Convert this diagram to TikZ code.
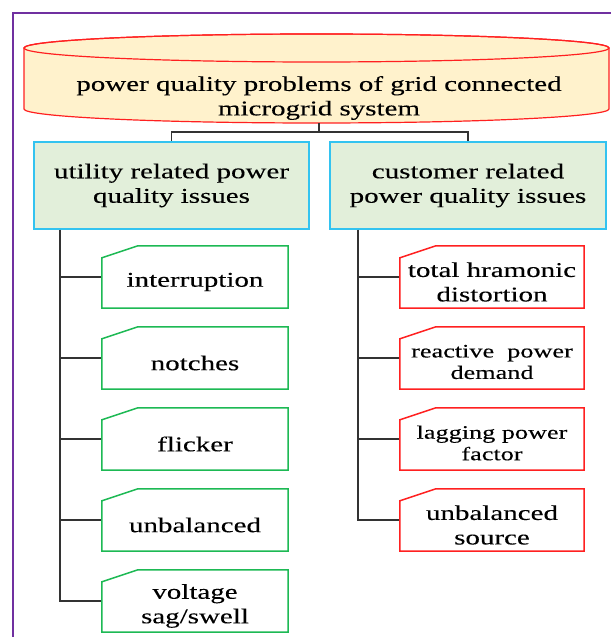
\documentclass[tikz,border=0pt]{standalone}
\usepackage{fontspec}
\setmainfont{Liberation Serif}[FakeStretch=1.38,FakeBold=0.15]
\definecolor{framepurple}{HTML}{7030A0}
\definecolor{cylfill}{HTML}{FFF2CC}
\definecolor{cylline}{HTML}{FF2020}
\definecolor{lgreen}{HTML}{E2EFDA}
\definecolor{skyb}{HTML}{33C3F0}
\definecolor{leafgreen}{HTML}{1DB954}
\definecolor{leafred}{HTML}{FF2020}
\definecolor{connc}{HTML}{333333}
\begin{document}
\begin{tikzpicture}[x=1pt,y=1pt,
  every node/.style={font=\fontsize{21}{24.5}\selectfont},
  conn/.style={draw=connc, line width=1.6pt},
  lvlone/.style={draw=skyb, fill=lgreen, line width=1.5pt, minimum width=275pt, minimum height=87pt, inner sep=0pt, align=center},
  leaf/.style={minimum width=186pt, minimum height=62pt, inner sep=0pt},
  leaftext/.style={align=center, inner sep=0pt},
  smalltext/.style={leaftext, font=\fontsize{19}{21.5}\selectfont},
  leafg/.style={draw=leafgreen, fill=white, line width=1.5pt},
  leafr/.style={draw=leafred, fill=white, line width=1.5pt}
]
\useasboundingbox (0,0) rectangle (611,637);
% outer frame
\draw[draw=framepurple, line width=1.5pt] (13,0) -- (13,624) -- (611,624);
% cylinder
\filldraw[fill=cylfill, draw=cylline, line width=1.2pt]
  (24,589) -- (24,528) arc[start angle=180,end angle=360,x radius=292.5,y radius=14]
  -- (609,589) arc[start angle=0,end angle=180,x radius=292.5,y radius=14] -- cycle;
\draw[draw=cylline, line width=1.2pt] (316.5,589) ellipse[x radius=292.5, y radius=14];
\node[minimum height=50pt, inner sep=0pt, align=center] (top) at (319,539)
  {power quality problems of grid connected\\microgrid system};
% level one
\node[lvlone] (u) at (171.5,451.5) {utility related power\\quality issues};
\node[lvlone, minimum width=276pt] (c) at (468,451.5) {customer related\\power quality issues};
\draw[conn] (top.south) -- ++(0,-9) coordinate (split);
\draw[conn] (u.north) |- (split) -| (c.north);
% left leaves
\node[leaf] (l1) at (195,360) {};
\node[leaf] (l2) at (195,279) {};
\node[leaf] (l3) at (195,198) {};
\node[leaf] (l4) at (195,117) {};
\node[leaf] (l5) at (195,36) {};
% right leaves
\node[leaf, minimum width=184pt] (r1) at (492,360) {};
\node[leaf, minimum width=184pt] (r2) at (492,279) {};
\node[leaf, minimum width=184pt] (r3) at (492,198) {};
\node[leaf, minimum width=184pt] (r4) at (492,117) {};
% trunks and branches
\coordinate (lt) at ([xshift=27pt]u.south west);
\coordinate (rt) at ([xshift=29pt]c.south west);
\draw[conn] (lt) |- (l5.west);
\foreach \n in {l1,l2,l3,l4} \draw[conn] (lt |- \n.west) -- (\n.west);
\draw[conn] (rt) |- (r4.west);
\foreach \n in {r1,r2,r3} \draw[conn] (rt |- \n.west) -- (\n.west);
% leaf boxes with cut corner
\foreach \n in {l1,l2,l3,l4,l5}
  \draw[leafg] ([yshift=-12pt]\n.north west) -- ([xshift=36pt]\n.north west)
    -- (\n.north east) -- (\n.south east) -- (\n.south west) -- cycle;
\foreach \n in {r1,r2,r3,r4}
  \draw[leafr] ([yshift=-12pt]\n.north west) -- ([xshift=36pt]\n.north west)
    -- (\n.north east) -- (\n.south east) -- (\n.south west) -- cycle;
% leaf texts
\node[leaftext] (l1t) at ([yshift=-5pt]l1.center) {interruption};
\node[leaftext] (l2t) at ([yshift=-5pt]l2.center) {notches};
\node[leaftext] (l3t) at ([yshift=-5pt]l3.center) {flicker};
\node[leaftext] (l4t) at ([yshift=-5pt]l4.center) {unbalanced};
\node[leaftext] (l5t) at ([yshift=-5pt]l5.center) {voltage\\sag/swell};
\node[leaftext] (r1t) at ([yshift=-5pt]r1.center) {total hramonic\\distortion};
\node[smalltext] (r2t) at ([yshift=-4pt]r2.center) {reactive\ \ power\\demand};
\node[smalltext] (r3t) at ([yshift=-4pt]r3.center) {lagging power\\factor};
\node[leaftext] (r4t) at ([yshift=-5pt]r4.center) {unbalanced\\source};
\end{tikzpicture}
\end{document}
